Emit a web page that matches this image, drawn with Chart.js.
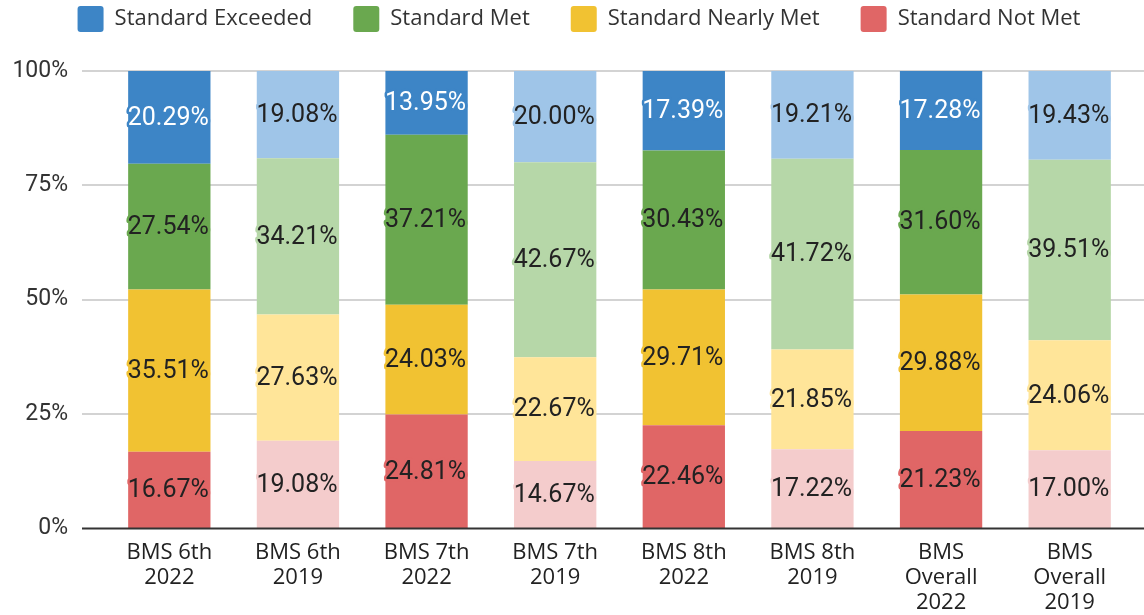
<!DOCTYPE html>
<html>
<head>
<meta charset="utf-8">
<script src="https://cdn.jsdelivr.net/npm/chart.js@4/dist/chart.umd.min.js"></script>
<style>
  body { margin: 0; background: #fff; }
  #wrap { width: 1144px; height: 615px; }
</style>
</head>
<body>
<div id="wrap"><canvas id="myChart" width="1144" height="615"></canvas></div>
<script>
const categories = [
  ["BMS 6th", "2022"], ["BMS 6th", "2019"],
  ["BMS 7th", "2022"], ["BMS 7th", "2019"],
  ["BMS 8th", "2022"], ["BMS 8th", "2019"],
  ["BMS", "Overall", "2022"], ["BMS", "Overall", "2019"]
];
const notMet = [16.67, 19.08, 24.81, 14.67, 22.46, 17.22, 21.23, 17.00];
const nearlyMet = [35.51, 27.63, 24.03, 22.67, 29.71, 21.85, 29.88, 24.06];
const met = [27.54, 34.21, 37.21, 42.67, 30.43, 41.72, 31.60, 39.51];
const exceeded = [20.29, 19.08, 13.95, 20.00, 17.39, 19.21, 17.28, 19.43];
const yTicks = [0, 25, 50, 75, 100];

// 2022 bars dark, 2019 bars light
const darkColors = ["#e06666", "#f1c232", "#6aa84f", "#3d85c6"];
const lightColors = ["#f4cccc", "#ffe599", "#b6d7a8", "#9fc5e8"];

function makeSet(label, values, i) {
  return {
    label: label,
    data: values,
    backgroundColor: (c) => (c.dataIndex % 2 === 1 ? lightColors[i] : darkColors[i]),
    borderWidth: 0,
  };
}

// grid lines run past the chart area, like the original
const gridPlugin = {
  id: "grid",
  afterLayout(chart) {
    // pull the legend up to the top edge, nudge it right a bit
    const lg = chart.legend;
    if (lg) {
      const d = lg.top + lg.options.labels.padding - 6;
      lg.top -= d; lg.bottom -= d;
      lg.left += 12; lg.right += 12;
    }
  },
  beforeDatasetsDraw(chart) {
    const ctx = chart.ctx;
    const y = chart.scales.y;
    ctx.save();
    ctx.strokeStyle = "#d3d3d3";
    ctx.lineWidth = 2;
    yTicks.forEach((t) => {
      if (t === 0) return;
      const py = Math.round(y.getPixelForValue(t));
      ctx.beginPath();
      ctx.moveTo(82, py);
      ctx.lineTo(chart.width, py);
      ctx.stroke();
    });
    ctx.restore();
  },
  afterDatasetsDraw(chart) {
    const ctx = chart.ctx;
    const py = Math.round(chart.scales.y.getPixelForValue(0)) + 0.5;
    ctx.save();
    ctx.strokeStyle = "#333";
    ctx.lineWidth = 2;
    ctx.beginPath();
    ctx.moveTo(82, py);
    ctx.lineTo(chart.width, py);
    ctx.stroke();
    ctx.restore();
  },
};

// value labels with a halo in the bar colour
const labelPlugin = {
  id: "valueLabels",
  afterDatasetsDraw(chart) {
    const ctx = chart.ctx;
    ctx.save();
    ctx.font = "25px Roboto";
    ctx.textAlign = "center";
    ctx.textBaseline = "middle";
    ctx.lineJoin = "round";
    chart.data.datasets.forEach((ds, di) => {
      const meta = chart.getDatasetMeta(di);
      meta.data.forEach((bar, i) => {
        const txt = ds.data[i].toFixed(2) + "%";
        const x = bar.x - 1;
        const yy = (bar.y + bar.base) / 2 + 1;
        const light = i % 2 === 1;
        ctx.lineWidth = 5;
        ctx.strokeStyle = light ? lightColors[di] : darkColors[di];
        ctx.strokeText(txt, x, yy);
        ctx.fillStyle = !light && di === 3 ? "#ffffff" : "#222222";
        ctx.fillText(txt, x, yy);
      });
    });
    ctx.restore();
  },
};

const myChart = new Chart(document.getElementById("myChart"), {
  type: "bar",
  data: {
    labels: categories,
    datasets: [
      makeSet("Standard Not Met", notMet, 0),
      makeSet("Standard Nearly Met", nearlyMet, 1),
      makeSet("Standard Met", met, 2),
      makeSet("Standard Exceeded", exceeded, 3),
    ],
  },
  options: {
    responsive: false,
    animation: false,
    layout: {
      padding: { top: -6, right: 10, left: 0, bottom: 0 },
    },
    datasets: {
      bar: { categoryPercentage: 1, barPercentage: 0.64 },
    },
    scales: {
      x: {
        stacked: true,
        grid: { display: false, drawTicks: false },
        border: { display: false },
        afterFit(scale) { scale.height = 87; },
        ticks: {
          padding: 12,
          color: "#222",
          font: { family: "'Open Sans'", size: 22, lineHeight: 1.14 },
          maxRotation: 0,
          autoSkip: false,
        },
      },
      y: {
        stacked: true,
        min: 0,
        max: 100,
        grid: { display: false, drawTicks: false },
        border: { display: false },
        afterFit(scale) { scale.width = 105; },
        afterBuildTicks(scale) { scale.ticks = yTicks.map((v) => ({ value: v })); },
        ticks: {
          padding: 37,
          color: "#333",
          font: { family: "Roboto", size: 23 },
          callback: (v) => v + "%",
        },
      },
    },
    plugins: {
      tooltip: { enabled: false },
      legend: {
        reverse: true,
        labels: {
          boxWidth: 26,
          boxHeight: 26,
          useBorderRadius: true,
          borderRadius: 3,
          padding: 41,
          color: "#333",
          font: { family: "'Open Sans'", size: 22 },
        },
      },
    },
  },
  plugins: [gridPlugin, labelPlugin],
});
</script>
</body>
</html>
